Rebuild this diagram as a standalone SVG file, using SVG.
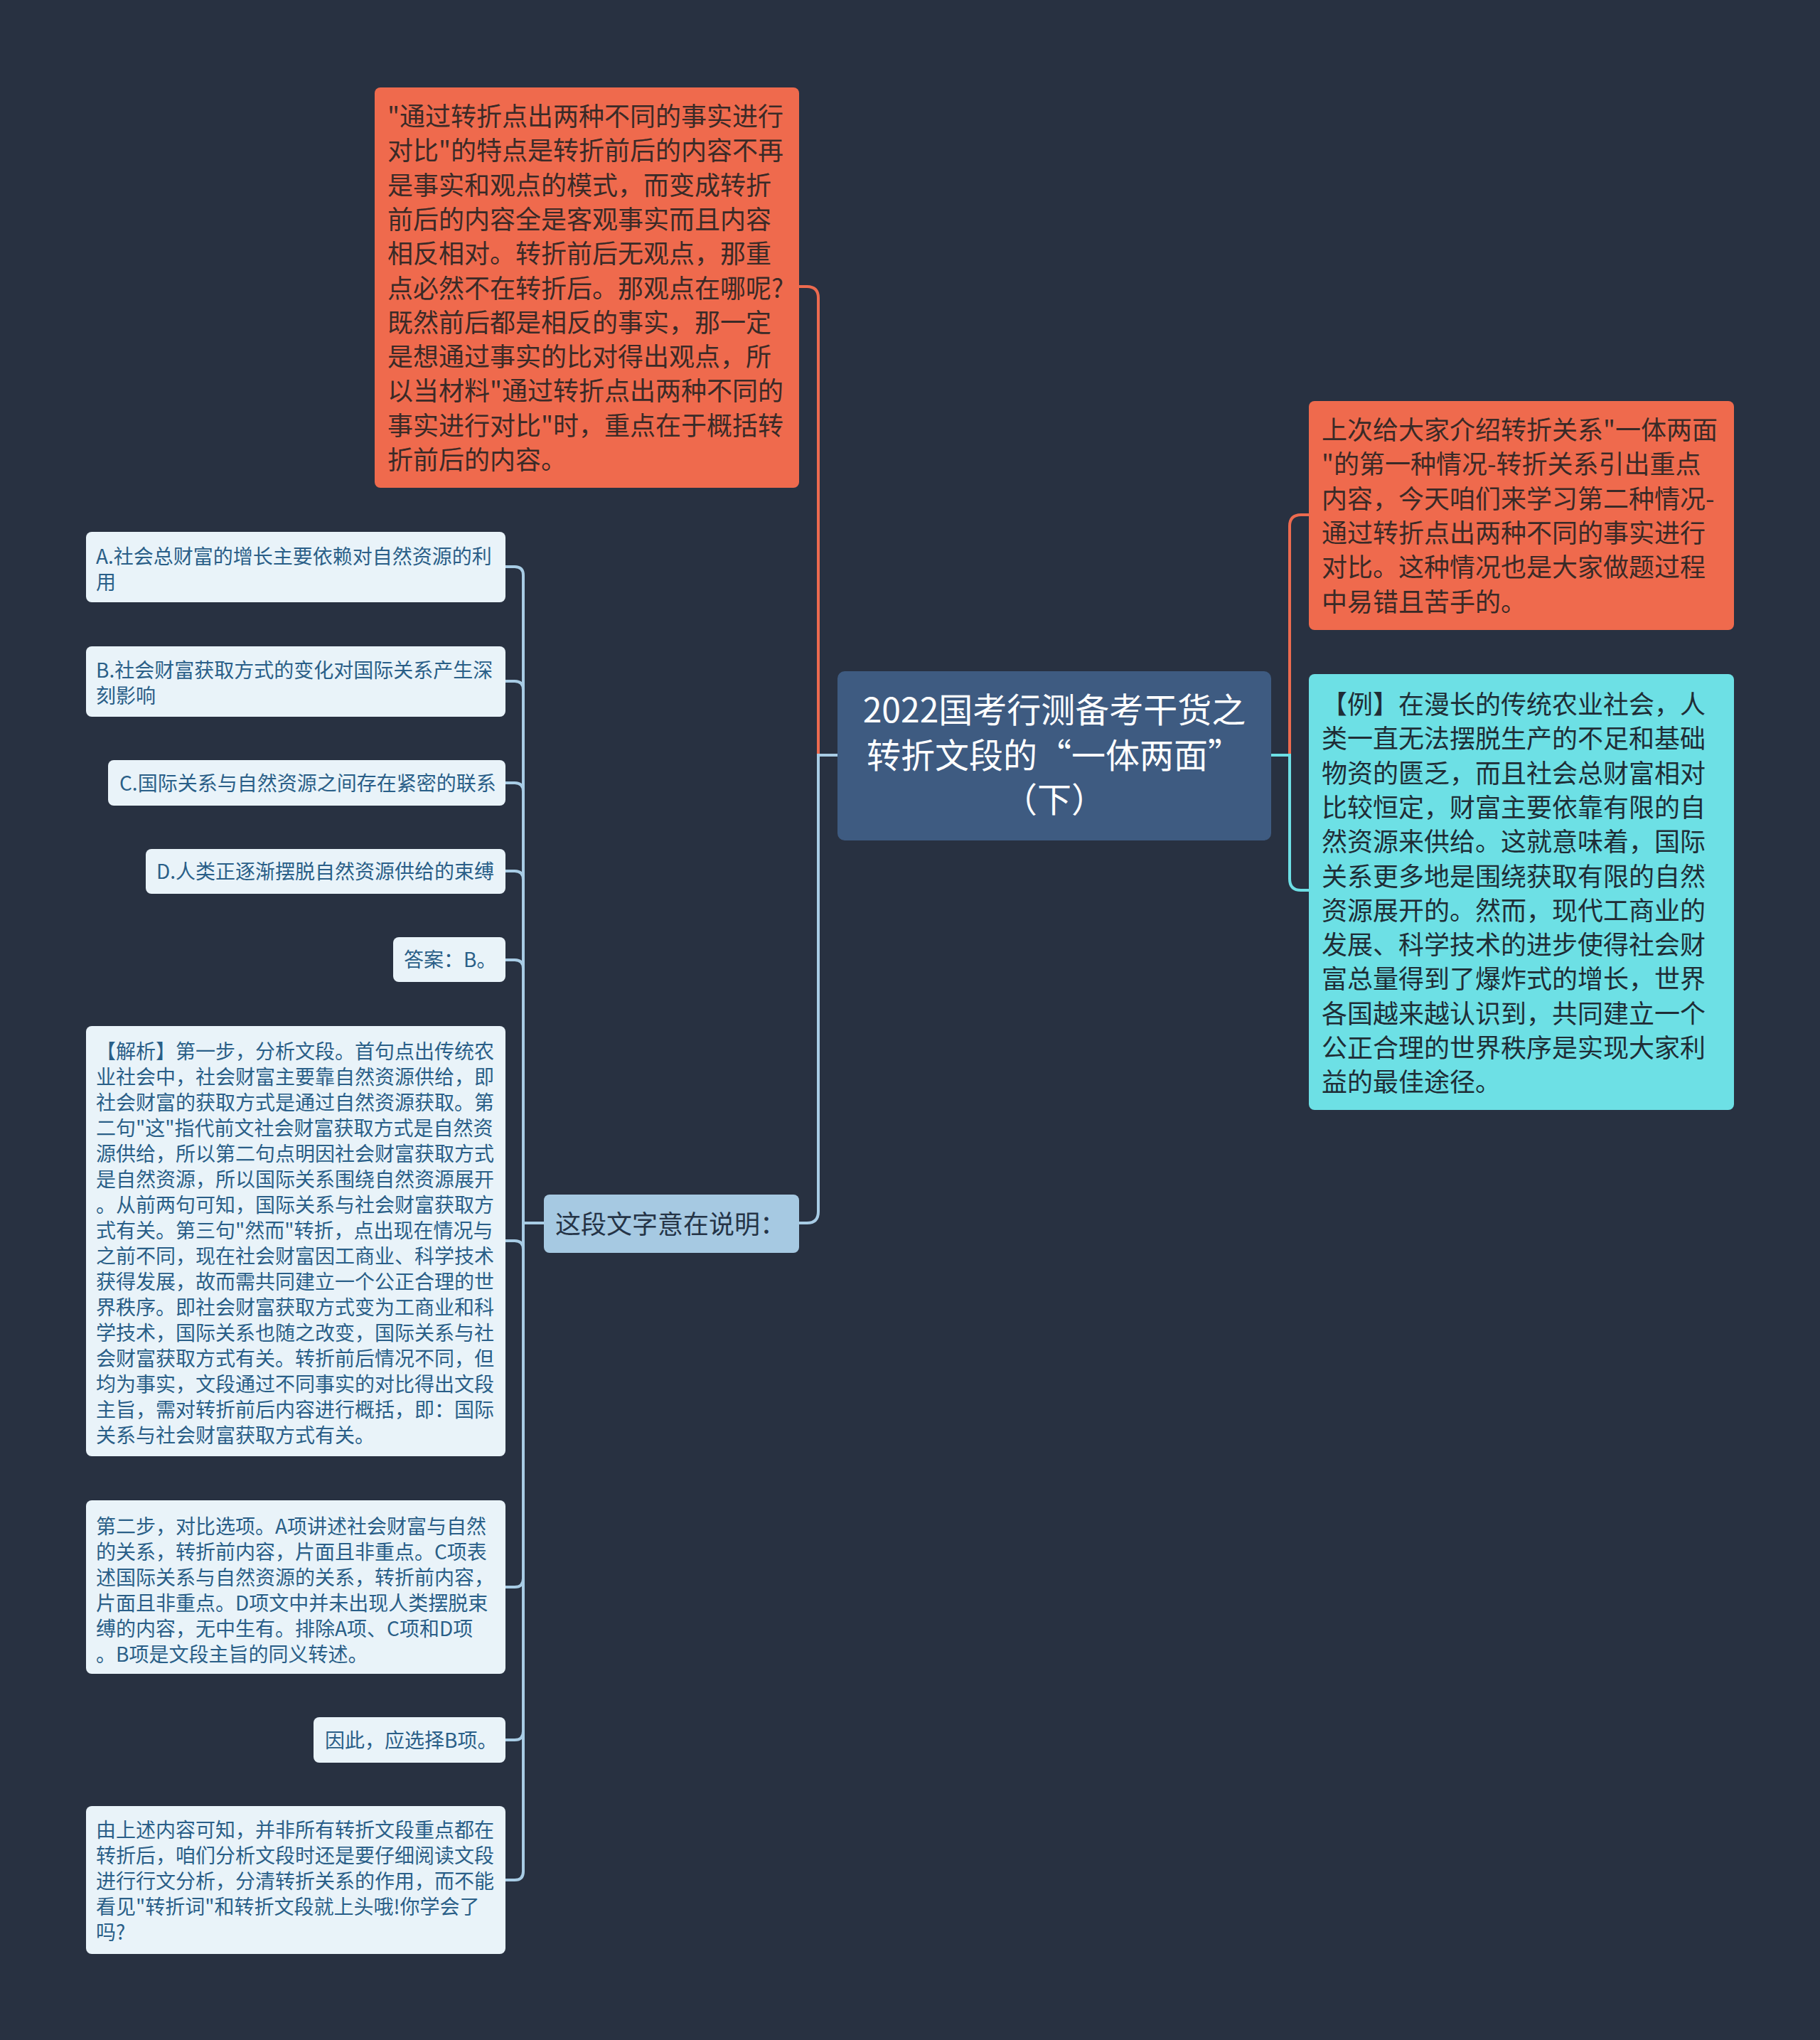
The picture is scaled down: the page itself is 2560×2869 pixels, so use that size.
<svg xmlns="http://www.w3.org/2000/svg" width="2560" height="2869" viewBox="0 0 2560 2869">
<style>
text{font-family:"Noto Sans CJK SC","Noto Sans",sans-serif;}
.bg{fill:#283141;}
.center{fill:#3e5b81;}
.ctext{fill:#ffffff;font-size:48px;}
.orange{fill:#ef6a4d;}
.otext{fill:#3a2a27;font-size:36px;}
.cyan{fill:#6de0e5;}
.cytext{fill:#1f2d36;font-size:36px;}
.sub{fill:#a6c9e2;}
.subtext{fill:#253447;font-size:36px;}
.leaf{fill:#e9f3f9;}
.ltext{fill:#2a5f88;font-size:28px;}
.c-or{fill:none;stroke:#ec6a4f;stroke-width:4;}
.c-bl{fill:none;stroke:#a8cce5;stroke-width:4;}
.c-cy{fill:none;stroke:#6ddfe5;stroke-width:4;}
</style>
<rect class="bg" x="0" y="0" width="2560" height="2869"/>

<g id="connectors">
  <path class="c-or" d="M1178 1062 H1151 V419 Q1151 403 1135 403 H1124"/>
  <path class="c-bl" d="M1178 1062 H1151 V1704 Q1151 1720 1135 1720 H1124"/>
  <path class="c-or" d="M1788 1062 H1814 V740 Q1814 724 1830 724 H1841"/>
  <path class="c-cy" d="M1788 1062 H1814 V1236 Q1814 1252 1830 1252 H1841"/>
  <path class="c-bl" d="M765 1720 H736 V809 Q736 797 724 797 H711"/>
  <path class="c-bl" d="M765 1720 H736 V970 Q736 958 724 958 H711"/>
  <path class="c-bl" d="M765 1720 H736 V1113 Q736 1101 724 1101 H711"/>
  <path class="c-bl" d="M765 1720 H736 V1237 Q736 1225 724 1225 H711"/>
  <path class="c-bl" d="M765 1720 H736 V1362 Q736 1350 724 1350 H711"/>
  <path class="c-bl" d="M765 1720 H736 V1757 Q736 1745 724 1745 H711"/>
  <path class="c-bl" d="M765 1720 H736 V2220 Q736 2232 724 2232 H711"/>
  <path class="c-bl" d="M765 1720 H736 V2435 Q736 2447 724 2447 H711"/>
  <path class="c-bl" d="M765 1720 H736 V2632 Q736 2644 724 2644 H711"/>
</g>

<g id="center">
  <rect class="center" x="1178" y="944" width="610" height="238" rx="10"/>
  <text class="ctext" text-anchor="middle"><tspan x="1483" y="1016">2022国考行测备考干货之</tspan><tspan x="1483" y="1080">转折文段的“一体两面”</tspan><tspan x="1483" y="1142">（下）</tspan></text>
</g>

<g id="node-tl">
  <rect class="orange" x="527" y="123" width="597" height="563" rx="8"/>
  <text class="otext"><tspan x="545" y="177">"通过转折点出两种不同的事实进行</tspan><tspan x="545" y="225.3">对比"的特点是转折前后的内容不再</tspan><tspan x="545" y="273.6">是事实和观点的模式，而变成转折</tspan><tspan x="545" y="321.9">前后的内容全是客观事实而且内容</tspan><tspan x="545" y="370.2">相反相对。转折前后无观点，那重</tspan><tspan x="545" y="418.5">点必然不在转折后。那观点在哪呢?</tspan><tspan x="545" y="466.8">既然前后都是相反的事实，那一定</tspan><tspan x="545" y="515.1">是想通过事实的比对得出观点，所</tspan><tspan x="545" y="563.4">以当材料"通过转折点出两种不同的</tspan><tspan x="545" y="611.7">事实进行对比"时，重点在于概括转</tspan><tspan x="545" y="660">折前后的内容。</tspan></text>
</g>

<g id="node-r1">
  <rect class="orange" x="1841" y="564" width="598" height="322" rx="8"/>
  <text class="otext"><tspan x="1859" y="618">上次给大家介绍转折关系"一体两面</tspan><tspan x="1859" y="666.3">"的第一种情况-转折关系引出重点</tspan><tspan x="1859" y="714.6">内容，今天咱们来学习第二种情况-</tspan><tspan x="1859" y="762.9">通过转折点出两种不同的事实进行</tspan><tspan x="1859" y="811.2">对比。这种情况也是大家做题过程</tspan><tspan x="1859" y="859.5">中易错且苦手的。</tspan></text>
</g>

<g id="node-r2">
  <rect class="cyan" x="1841" y="948" width="598" height="613" rx="8"/>
  <text class="cytext"><tspan x="1859" y="1004">【例】在漫长的传统农业社会，人</tspan><tspan x="1859" y="1052.3">类一直无法摆脱生产的不足和基础</tspan><tspan x="1859" y="1100.6">物资的匮乏，而且社会总财富相对</tspan><tspan x="1859" y="1148.9">比较恒定，财富主要依靠有限的自</tspan><tspan x="1859" y="1197.2">然资源来供给。这就意味着，国际</tspan><tspan x="1859" y="1245.5">关系更多地是围绕获取有限的自然</tspan><tspan x="1859" y="1293.8">资源展开的。然而，现代工商业的</tspan><tspan x="1859" y="1342.1">发展、科学技术的进步使得社会财</tspan><tspan x="1859" y="1390.4">富总量得到了爆炸式的增长，世界</tspan><tspan x="1859" y="1438.7">各国越来越认识到，共同建立一个</tspan><tspan x="1859" y="1487">公正合理的世界秩序是实现大家利</tspan><tspan x="1859" y="1535.3">益的最佳途径。</tspan></text>
</g>

<g id="node-sub">
  <rect class="sub" x="765" y="1680" width="359" height="82" rx="8"/>
  <text class="subtext" x="781" y="1735">这段文字意在说明：</text>
</g>

<g id="leaf-a">
  <rect class="leaf" x="121" y="748" width="590" height="99" rx="8"/>
  <text class="ltext"><tspan x="135" y="793">A.社会总财富的增长主要依赖对自然资源的利</tspan><tspan x="135" y="829">用</tspan></text>
</g>
<g id="leaf-b">
  <rect class="leaf" x="121" y="909" width="590" height="99" rx="8"/>
  <text class="ltext"><tspan x="135" y="953">B.社会财富获取方式的变化对国际关系产生深</tspan><tspan x="135" y="989">刻影响</tspan></text>
</g>
<g id="leaf-c">
  <rect class="leaf" x="152" y="1069" width="559" height="64" rx="8"/>
  <text class="ltext" x="168" y="1112">C.国际关系与自然资源之间存在紧密的联系</text>
</g>
<g id="leaf-d">
  <rect class="leaf" x="205" y="1194" width="506" height="63" rx="8"/>
  <text class="ltext" x="220" y="1236">D.人类正逐渐摆脱自然资源供给的束缚</text>
</g>
<g id="leaf-ans">
  <rect class="leaf" x="553" y="1318" width="158" height="63" rx="8"/>
  <text class="ltext" x="568" y="1360">答案：B。</text>
</g>
<g id="leaf-analysis">
  <rect class="leaf" x="121" y="1443" width="590" height="605" rx="8"/>
  <text class="ltext"><tspan x="135" y="1489">【解析】第一步，分析文段。首句点出传统农</tspan><tspan x="135" y="1525">业社会中，社会财富主要靠自然资源供给，即</tspan><tspan x="135" y="1561">社会财富的获取方式是通过自然资源获取。第</tspan><tspan x="135" y="1597">二句"这"指代前文社会财富获取方式是自然资</tspan><tspan x="135" y="1633">源供给，所以第二句点明因社会财富获取方式</tspan><tspan x="135" y="1669">是自然资源，所以国际关系围绕自然资源展开</tspan><tspan x="135" y="1705">。从前两句可知，国际关系与社会财富获取方</tspan><tspan x="135" y="1741">式有关。第三句"然而"转折，点出现在情况与</tspan><tspan x="135" y="1777">之前不同，现在社会财富因工商业、科学技术</tspan><tspan x="135" y="1813">获得发展，故而需共同建立一个公正合理的世</tspan><tspan x="135" y="1849">界秩序。即社会财富获取方式变为工商业和科</tspan><tspan x="135" y="1885">学技术，国际关系也随之改变，国际关系与社</tspan><tspan x="135" y="1921">会财富获取方式有关。转折前后情况不同，但</tspan><tspan x="135" y="1957">均为事实，文段通过不同事实的对比得出文段</tspan><tspan x="135" y="1993">主旨，需对转折前后内容进行概括，即：国际</tspan><tspan x="135" y="2029">关系与社会财富获取方式有关。</tspan></text>
</g>
<g id="leaf-step2">
  <rect class="leaf" x="121" y="2110" width="590" height="244" rx="8"/>
  <text class="ltext"><tspan x="135" y="2157">第二步，对比选项。A项讲述社会财富与自然</tspan><tspan x="135" y="2193">的关系，转折前内容，片面且非重点。C项表</tspan><tspan x="135" y="2229">述国际关系与自然资源的关系，转折前内容，</tspan><tspan x="135" y="2265">片面且非重点。D项文中并未出现人类摆脱束</tspan><tspan x="135" y="2301">缚的内容，无中生有。排除A项、C项和D项</tspan><tspan x="135" y="2337">。B项是文段主旨的同义转述。</tspan></text>
</g>
<g id="leaf-choose">
  <rect class="leaf" x="441" y="2415" width="270" height="64" rx="8"/>
  <text class="ltext" x="457" y="2458">因此，应选择B项。</text>
</g>
<g id="leaf-summary">
  <rect class="leaf" x="121" y="2540" width="590" height="208" rx="8"/>
  <text class="ltext"><tspan x="135" y="2584">由上述内容可知，并非所有转折文段重点都在</tspan><tspan x="135" y="2620">转折后，咱们分析文段时还是要仔细阅读文段</tspan><tspan x="135" y="2656">进行行文分析，分清转折关系的作用，而不能</tspan><tspan x="135" y="2692">看见"转折词"和转折文段就上头哦!你学会了</tspan><tspan x="135" y="2728">吗?</tspan></text>
</g>
</svg>
